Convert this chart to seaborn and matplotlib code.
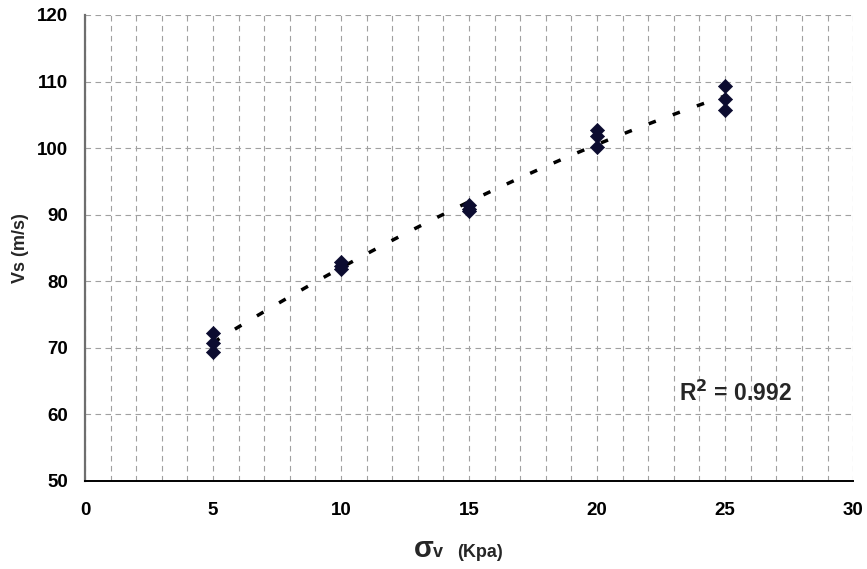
import numpy as np
import pandas as pd
import matplotlib
matplotlib.use("Agg")
import matplotlib.pyplot as plt
from matplotlib.ticker import MultipleLocator
import seaborn as sns

# Vertical stress (kPa) and measured shear-wave velocity (m/s)
stress = [5, 5, 5, 10, 10, 10, 15, 15, 15, 20, 20, 20, 25, 25, 25]
vs = [72.3, 70.7, 69.4, 82.9, 82.3, 81.8, 91.4, 90.9, 90.6,
      102.7, 101.8, 100.1, 109.4, 107.4, 105.7]
r_squared = "0.992"

x_ticks = [0, 5, 10, 15, 20, 25, 30]
y_ticks = [50, 60, 70, 80, 90, 100, 110, 120]

df = pd.DataFrame({"stress": stress, "vs": vs})

sns.set_theme(style="white")
plt.rcParams["font.family"] = ["Liberation Sans", "DejaVu Sans"]
plt.rcParams["font.weight"] = "bold"

fig = plt.figure(figsize=(8.67, 5.69), dpi=100)
ax = fig.add_axes([0.098, 0.1547, 0.886, 0.819])
ax.set_facecolor("white")

# dashed grid: every 1 kPa vertically, every 10 m/s horizontally
ax.xaxis.set_minor_locator(MultipleLocator(1))
ax.grid(which="both", axis="x", color="#a0a0a0", linestyle=(0, (5, 4)), linewidth=0.8)
ax.grid(which="major", axis="y", color="#a0a0a0", linestyle=(0, (5, 4)), linewidth=0.8)
ax.set_axisbelow(True)

# second-order trend line through the data
sns.regplot(data=df, x="stress", y="vs", order=2, ci=None, scatter=False,
            truncate=True, ax=ax,
            line_kws=dict(color="black", linewidth=2.5,
                          linestyle=(0, (2.2, 5.2)), dash_capstyle="butt"))

sns.scatterplot(data=df, x="stress", y="vs", marker="D", s=52,
                color="#0c0c30", edgecolor="#0c0c30", linewidth=0.5,
                ax=ax, zorder=3)

ax.set_xlim(0, 30)
ax.set_ylim(50, 120)
ax.set_xticks(x_ticks)
ax.set_yticks(y_ticks)
ax.tick_params(axis="both", which="major", direction="in", length=4.5,
               width=1.2, labelsize=13.5, colors="black")
ax.tick_params(axis="x", which="major", pad=15)
ax.tick_params(axis="y", which="major", pad=12)
ax.tick_params(axis="x", which="minor", length=0)
for lbl in ax.get_xticklabels() + ax.get_yticklabels():
    lbl.set_fontweight("bold")

for side in ("top", "right"):
    ax.spines[side].set_visible(False)
ax.spines["left"].set_color("#6e6e6e")
ax.spines["left"].set_linewidth(1.6)
ax.spines["bottom"].set_color("black")
ax.spines["bottom"].set_linewidth(1.4)

ax.set_xlabel("")
ax.set_ylabel("Vs (m/s)", fontsize=13, fontweight="bold", labelpad=6)

# x-axis title: sigma with subscript v, plus units
fig.text(414 / 867, 1 - 557 / 569, "σ", fontsize=21, fontweight="bold",
         ha="left", va="baseline")
fig.text(433 / 867, 1 - 557 / 569, "v", fontsize=13, fontweight="bold",
         ha="left", va="baseline")
fig.text(457 / 867, 1 - 557 / 569, "(Kpa)", fontsize=13, fontweight="bold",
         ha="left", va="baseline")

ax.text(23.2, 62.0, r"R$^\mathbf{2}$ = " + r_squared, fontsize=16.5,
        fontweight="bold", ha="left", va="baseline")

fig.savefig("out.png", dpi=100, facecolor="white")
